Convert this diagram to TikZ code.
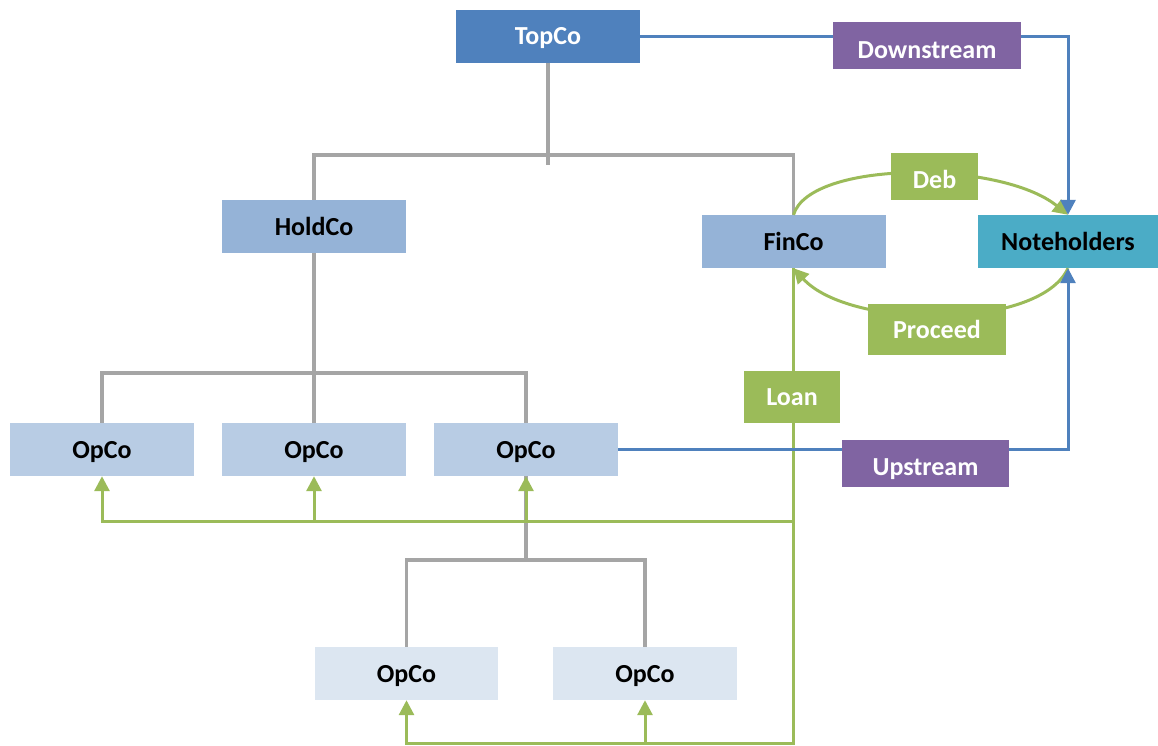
\documentclass[tikz,border=0pt]{standalone}
\usepackage{fontspec}
\setmainfont{Carlito}
\usetikzlibrary{arrows.meta}
\definecolor{topblue}{HTML}{4F81BD}
\definecolor{midblue}{HTML}{95B3D7}
\definecolor{lowblue}{HTML}{B8CCE4}
\definecolor{paleblue}{HTML}{DCE6F1}
\definecolor{noteteal}{HTML}{4BACC6}
\definecolor{flowpurple}{HTML}{8064A2}
\definecolor{cashgreen}{HTML}{9BBB59}
\definecolor{tiegray}{HTML}{A5A5A5}

\begin{document}
\begin{tikzpicture}[x=1pt,y=-1pt,
  box/.style={rectangle,inner sep=0pt,minimum width=184pt,minimum height=53pt,
    text height=17pt,text depth=0pt,font=\fontsize{26}{30}\selectfont\bfseries},
  tie/.style={draw=tiegray,line width=3.5pt},
  cash/.style={draw=cashgreen,line width=3pt},
  flow/.style={draw=topblue,line width=3pt},
  tip/.style={-{Triangle[width=15pt,length=15pt]}}]
\useasboundingbox (0,0) rectangle (1158,745);

\node[box,fill=topblue,text=white] (topco) at (548,36) {TopCo};
\node[box,fill=midblue] (holdco) at (314,226.5) {HoldCo};
\node[box,fill=midblue] (finco) at (793.5,241.5) {FinCo};
\node[box,fill=noteteal,minimum width=181pt] (noteh) at (1068,241.5) {Noteholders};

\node[box,fill=lowblue] (opco_1) at (102,449.5) {OpCo};
\node[box,fill=lowblue] (opco_2) at (314,449.5) {OpCo};
\node[box,fill=lowblue] (opco_3) at (526,449.5) {OpCo};
\node[box,fill=paleblue,minimum width=183pt] (opco_4) at (406.5,673.5) {OpCo};
\node[box,fill=paleblue] (opco_5) at (645,673.5) {OpCo};

% ownership tree
\coordinate (bar_0) at (548,155);
\coordinate (bar_1) at (314,373);
\coordinate (bar_2) at (526,560);
\draw[tie] (topco.south) -- (548,165) coordinate (stub);
\draw[tie] (holdco.north) |- (bar_0) -| (finco.north);
\draw[tie] (holdco.south) -- (opco_2.north);
\draw[tie] (opco_1.north) |- (bar_1) -| (opco_3.north);
\draw[tie] (opco_3.south) -- (bar_2);
\draw[tie] (opco_4.north) |- (bar_2) -| (opco_5.north);

% loans
\coordinate (g_mid) at (finco.south |- 0,521);
\coordinate (g_bot) at (finco.south |- 0,743);
\draw[cash,tip] (finco.south) -- (g_bot) -| (opco_4.south);
\draw[cash,tip] (g_bot -| opco_5.south) -- (opco_5.south);
\draw[cash,tip] (g_mid) -| (opco_1.south);
\draw[cash,tip] (g_mid -| opco_2.south) -- (opco_2.south);
\draw[cash,tip] (g_mid -| opco_3.south) -- (opco_3.south);

% deb and proceeds
\draw[cash,tip] (finco.north) .. controls (810,160) and (1000,160) .. (noteh.north);
\draw[cash,tip] (noteh.south) .. controls (1040,330) and (850,330) .. (finco.south);

% guarantees
\draw[flow,tip] (topco.east) -| (noteh.north);
\draw[flow,tip] (opco_3.east) -| (noteh.south);

\node[box,fill=flowpurple,text=white,minimum width=188pt,minimum height=47pt,text height=25pt] (down) at (927,45.5) {Downstream};
\node[box,fill=flowpurple,text=white,minimum width=167pt,minimum height=47pt,text height=23pt] (up) at (925.5,463.5) {Upstream};
\node[box,fill=cashgreen,text=white,minimum width=96pt,minimum height=52pt] (loan) at (792,397) {Loan};
\node[box,fill=cashgreen,text=white,minimum width=87pt,minimum height=47pt,text height=23pt] (deb) at (934.5,176.5) {Deb};
\node[box,fill=cashgreen,text=white,minimum width=138pt,minimum height=51pt] (proceed) at (937,329.5) {Proceed};

\end{tikzpicture}
\end{document}
